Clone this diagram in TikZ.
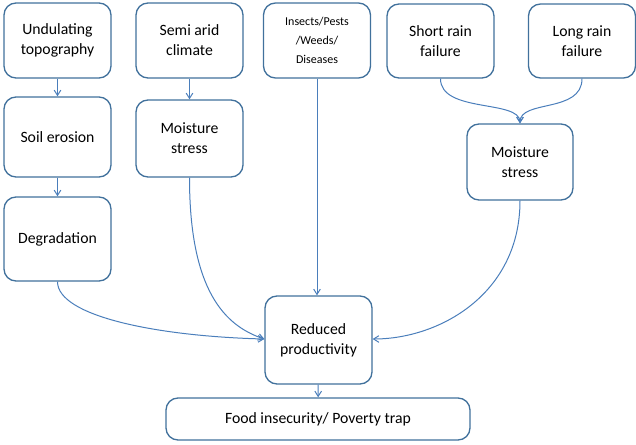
\documentclass[tikz,border=0pt]{standalone}
\usepackage{fontspec}
\setmainfont{Carlito}
\usetikzlibrary{arrows.meta}
\definecolor{boxline}{HTML}{41719C}
\definecolor{linkline}{HTML}{4A7EBB}
\tikzset{
  causebox/.style={draw=boxline, line width=1pt, rounded corners=9pt, fill=white,
    align=center, inner sep=0pt, font=\fontsize{11.8}{15}\selectfont},
  link/.style={draw=linkline, line width=0.75pt, -{Straight Barb[length=4pt,width=5pt]}},
}
\begin{document}
\begin{tikzpicture}[x=0.75pt,y=-0.75pt]
\useasboundingbox (0,0) rectangle (636,444);
% top row
\node[causebox, minimum width=80.25pt, minimum height=56.25pt] (und) at (57.5,40.5) {Undulating\\topography};
\node[causebox, minimum width=80.25pt, minimum height=56.25pt] (semi) at (189.5,40.5) {Semi arid\\climate};
\node[causebox, minimum width=80.25pt, minimum height=56.25pt, font=\fontsize{9}{14}\selectfont] (ins) at (317,40.5) {Insects/Pests\\/Weeds/\\Diseases};
\node[causebox, minimum width=80.25pt, minimum height=55.5pt] (short) at (440.5,41) {Short rain\\failure};
\node[causebox, minimum width=80.25pt, minimum height=55.5pt] (long) at (582,41) {Long rain\\failure};
% second level
\node[causebox, minimum width=80.25pt, minimum height=60pt] (soil) at (57.5,137) {Soil erosion};
\node[causebox, minimum width=80.25pt, minimum height=57.75pt] (mleft) at (189.5,138.5) {Moisture\\stress};
\node[causebox, minimum width=79.5pt, minimum height=57pt] (mright) at (520,162) {Moisture\\stress};
\node[causebox, minimum width=80.25pt, minimum height=63pt] (deg) at (57.5,239) {Degradation};
% outcomes
\node[causebox, minimum width=80.25pt, minimum height=66pt] (red) at (318.5,340) {Reduced\\productivity};
\node[causebox, minimum width=228pt, minimum height=31.5pt] (food) at (318,419) {Food insecurity/ Poverty trap};
% straight links
\draw[link] (und) -- (soil);
\draw[link] (soil) -- (deg);
\draw[link] (semi) -- (mleft);
\draw[link] (ins.south) -- (red.north -| ins.south);
\draw[link] (red) -- (food);
% curved links
\coordinate (redW) at ([yshift=0.75pt]red.west);
\coordinate (redE) at ([yshift=0.75pt]red.east);
\draw[link] (deg.south) .. controls +(0,-26pt) and +(-80pt,2pt) .. (redW);
\draw[link] (mleft.south) .. controls +(0,-84pt) and +(-30pt,10pt) .. (redW);
\draw[link] (mright.south) .. controls +(0,-70pt) and +(50pt,0) .. (redE);
\draw[link] (short.south) .. controls +(0,-26pt) and +(0,18pt) .. (mright.north);
\draw[link] (long.south) .. controls +(0,-26pt) and +(0,18pt) .. (mright.north);
\end{tikzpicture}
\end{document}
